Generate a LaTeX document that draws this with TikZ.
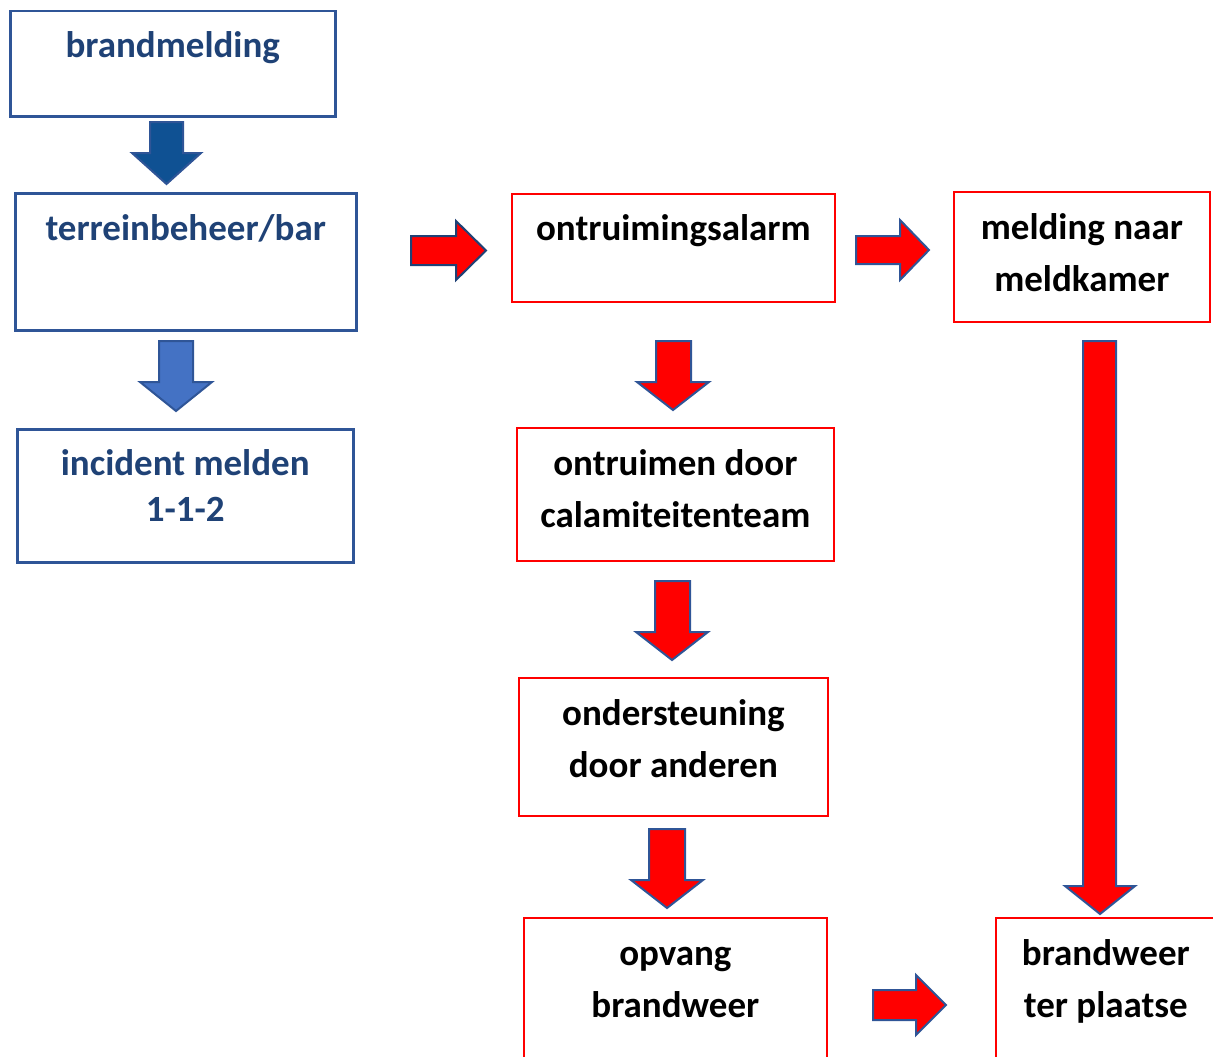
\documentclass[tikz,border=0pt]{standalone}
\usepackage{fontspec}
\setmainfont{Carlito}
\usepackage{tikz}

\definecolor{boxblue}{HTML}{2F5597}
\definecolor{txtblue}{HTML}{1F4276}
\definecolor{arrdark}{HTML}{0F5193}
\definecolor{arrlight}{HTML}{4472C4}
\definecolor{arrline}{HTML}{2F5597}

\tikzset{
  bluebox/.style={draw=boxblue, line width=2.5pt, anchor=north west, inner sep=0pt},
  redbox/.style={draw=red, line width=1.7pt, anchor=north west, inner sep=0pt},
  boxtext/.style={font=\bfseries\fontsize{37}{52}\selectfont, align=center, anchor=base, inner sep=0pt},
  bluetext/.style={boxtext, text=txtblue},
  redarrow/.style={fill=red, draw=arrline, line width=2pt, line join=miter}
}

\begin{document}
\begin{tikzpicture}[x=1pt, y=-1pt]
\path[use as bounding box, clip] (0,0) rectangle (1213,1057);

% left column
\node[bluebox, minimum width=325, minimum height=105] (brand) at (9,10) {};
\node[bluetext] (brandtxt) at ([yshift=-48pt]brand.north) {brandmelding};
\node[bluebox, minimum width=341, minimum height=137] (terrein) at (14,192) {};
\node[bluetext] (terreintxt) at ([yshift=-48pt]terrein.north) {terreinbeheer/bar};
\node[bluebox, minimum width=336, minimum height=133] (incident) at (16,428) {};
\node[bluetext] (incidenttxt) at ([yshift=-93pt]incident.north) {incident melden\\[-6pt]1-1-2};

% middle column
\node[redbox, minimum width=323, minimum height=108] (alarm) at (511,193) {};
\node[boxtext] (alarmtxt) at ([yshift=-47pt]alarm.north) {ontruimingsalarm};
\node[redbox, minimum width=317, minimum height=133] (ontruimen) at (516,427) {};
\node[boxtext] (ontruimentxt) at ([yshift=-100pt]ontruimen.north) {ontruimen door\\calamiteitenteam};
\node[redbox, minimum width=309, minimum height=138] (steun) at (518,677) {};
\node[boxtext] (steuntxt) at ([yshift=-100pt]steun.north) {ondersteuning\\door anderen};
\node[redbox, minimum width=303, minimum height=160] (opvang) at (523,917) {};
\node[boxtext] (opvangtxt) at ([yshift=-100pt]opvang.north) {opvang\\brandweer};

% right column
\node[redbox, minimum width=256, minimum height=130] (meldkamer) at (953,191) {};
\node[boxtext] (meldkamertxt) at ([yshift=-100pt]meldkamer.north) {melding naar\\meldkamer};
\node[redbox, minimum width=220, minimum height=160] (plaatse) at (995,917) {};
\node[boxtext] (plaatsetxt) at ([yshift=-100pt]plaatse.north) {brandweer\\ter plaatse};

% block arrows
\filldraw[fill=arrdark, draw=arrline, line width=2pt] (150,122) -- (183,122) -- (183,153) -- (201,153) -- (166.5,184) -- (132,153) -- (150,153) -- cycle;
\filldraw[fill=arrlight, draw=arrline, line width=2pt] (159,341) -- (193,341) -- (193,382) -- (212,382) -- (176,411) -- (140,382) -- (159,382) -- cycle;
\filldraw[redarrow, draw=txtblue] (411,236) -- (456,236) -- (456,221) -- (486,250.5) -- (456,280) -- (456,265) -- (411,265) -- cycle;
\filldraw[redarrow] (856,236) -- (900,236) -- (900,220) -- (929,250) -- (900,280) -- (900,264) -- (856,264) -- cycle;
\filldraw[redarrow] (656,341) -- (691,341) -- (691,382) -- (709,382) -- (673,410) -- (637,382) -- (656,382) -- cycle;
\filldraw[redarrow] (655,581) -- (690,581) -- (690,632) -- (708,632) -- (672,660) -- (636,632) -- (655,632) -- cycle;
\filldraw[redarrow] (649,829) -- (685,829) -- (685,880) -- (703,880) -- (667,908) -- (631,880) -- (649,880) -- cycle;
\filldraw[redarrow] (1083,341) -- (1116,341) -- (1116,886) -- (1135,886) -- (1100,914) -- (1065,886) -- (1083,886) -- cycle;
\filldraw[redarrow] (873,990) -- (916,990) -- (916,975) -- (946,1005) -- (916,1035) -- (916,1020) -- (873,1020) -- cycle;
\end{tikzpicture}
\end{document}
